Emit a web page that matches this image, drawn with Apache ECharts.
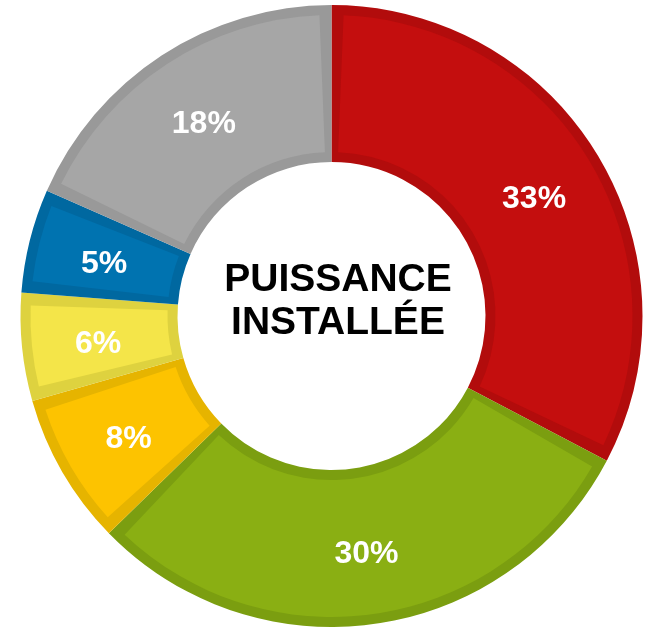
<!DOCTYPE html>
<html lang="fr">
<head>
    <meta charset="UTF-8">
    <title>Puissance installée</title>
    <script src="https://cdn.jsdelivr.net/npm/echarts@6.0.0/dist/echarts.min.js"></script>
    <style>
        html, body { margin: 0; padding: 0; background: #fff; }
        #chart { width: 652px; height: 628px; }
    </style>
</head>
<body>
    <div id="chart"></div>
    <script>
        // slice sizes (clockwise from 12 o'clock) and the rounded labels shown on them
        var shares = [32.7, 30.0, 7.9, 5.6, 5.4, 18.4];
        var labels = ['33%', '30%', '8%', '6%', '5%', '18%'];
        var fillColors = ['#c40e0e', '#8aaf13', '#fdc300', '#f4e549', '#0073b0', '#a6a6a6'];
        var edgeColors = ['#b20c0c', '#7b9e10', '#e6b400', '#ded23f', '#0068a0', '#999999'];
        var centerTitle = 'PUISSANCE\nINSTALLÉE';

        var center = [331.5, 316];
        var chart = echarts.init(document.getElementById('chart'));

        chart.setOption({
            animation: false,
            title: {
                text: centerTitle,
                left: 333,
                top: 254,
                textAlign: 'center',
                textStyle: {
                    fontFamily: 'Liberation Sans, Arial, sans-serif',
                    fontWeight: 'bold',
                    fontSize: 39,
                    lineHeight: 43,
                    color: '#000'
                }
            },
            series: [
                {
                    // darker rim of each slice
                    type: 'pie',
                    center: center,
                    radius: [154, 311],
                    startAngle: 90,
                    clockwise: true,
                    silent: true,
                    label: { show: false },
                    labelLine: { show: false },
                    data: shares.map(function (v, i) {
                        return { value: v, itemStyle: { color: edgeColors[i] } };
                    })
                },
                {
                    type: 'pie',
                    center: center,
                    radius: [164, 301],
                    startAngle: 90,
                    clockwise: true,
                    padAngle: 4.6,
                    silent: true,
                    label: {
                        show: true,
                        position: 'inside',
                        offset: [1, 5],
                        formatter: function (p) { return labels[p.dataIndex]; },
                        color: '#fff',
                        fontFamily: 'Liberation Sans, Arial, sans-serif',
                        fontWeight: 'bold',
                        fontSize: 32
                    },
                    labelLine: { show: false },
                    data: shares.map(function (v, i) {
                        return { value: v, itemStyle: { color: fillColors[i] } };
                    })
                }
            ]
        });
    </script>
</body>
</html>
